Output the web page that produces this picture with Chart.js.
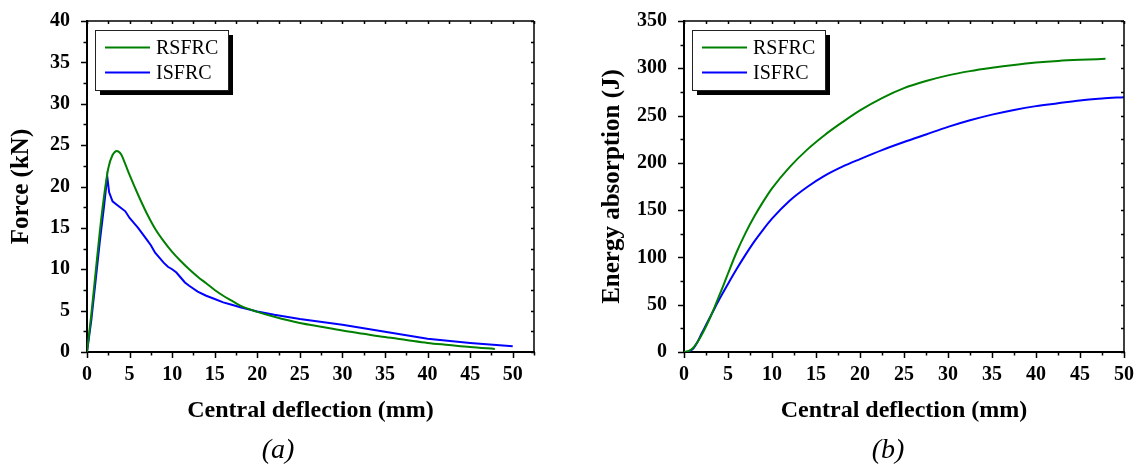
<!DOCTYPE html>
<html>
<head>
<meta charset="utf-8">
<script src="https://cdn.jsdelivr.net/npm/chart.js@4.4.1/dist/chart.umd.min.js"></script>
<style>
  html, body { margin: 0; padding: 0; background: #fff; }
  body { width: 1137px; height: 466px; position: relative; overflow: hidden; }
  canvas { position: absolute; top: 0; }
  #cA { left: 0; }
  #cB { left: 594px; }
  .cap { position: absolute; font-family: 'Liberation Serif', 'Times New Roman', serif; font-style: italic; font-size: 28px; color: #000; transform: translate(-50%, -50%); white-space: nowrap; }
</style>
</head>
<body>
<canvas id="cA" width="560" height="466"></canvas>
<canvas id="cB" width="543" height="466"></canvas>
<div class="cap" style="left:278px; top:449px;">(a)</div>
<div class="cap" style="left:888px; top:449px;">(b)</div>
<script>
// ---------- DATA ----------
const seriesNames = ['RSFRC', 'ISFRC'];

// (a) Force vs central deflection
const defRS_a = [0,0.5,1,1.5,2,2.5,3,3.5,4,4.5,5,6,7,8,9,10,11,12,13,14,15,16,17,18,20,22,25,27.5,30,32.5,35,37.5,40,42.5,45,47.9];
const forceRS = [0,4.5,9.5,14.5,18.8,22.2,23.8,24.3,23.9,22.7,21.4,19.0,16.8,14.9,13.4,12.1,11.0,10.0,9.1,8.3,7.5,6.8,6.2,5.6,4.85,4.25,3.5,3.05,2.6,2.2,1.8,1.45,1.1,0.85,0.6,0.37];

const defIS_a = [0,0.5,1,1.5,2,2.38,2.6,3,3.5,4,4.5,5,5.5,6,6.5,7,7.5,8,8.5,9,9.5,10,10.5,11,11.5,12,13,14,15,16,17,18,20,22,25,30,35,40,45,50];
const forceIS = [0,3.8,8.5,13.3,17.6,21.2,19.3,18.2,17.8,17.4,17.0,16.2,15.6,15.0,14.3,13.6,12.9,12.0,11.4,10.8,10.3,10.0,9.6,9.0,8.4,8.0,7.3,6.8,6.4,6.0,5.7,5.4,4.9,4.5,4.0,3.3,2.45,1.6,1.1,0.7];

// (b) Energy absorption vs central deflection
const defRS_b = [0,0.5,1,1.5,2,2.5,3,3.5,4,4.5,5,6,7,8,9,10,12,14,16,18,20,22.5,25,27.5,30,32.5,35,37.5,40,42.5,45,47.9];
const energyRS = [0,1,4,10,18,27,37,48,59.5,71,83,106,126,143.5,159,173,195.5,214,229.5,243,255.5,268.5,279,286.5,292.5,297,300.5,303.5,306,307.8,309,310];

const defIS_b = [0,0.5,1,1.5,2,2.5,3,3.5,4,5,6,7,8,9,10,12,14,16,18,20,22.5,25,27.5,30,32.5,35,37.5,40,42.5,45,47.5,50];
const energyIS = [0,0.6,3,10,19.5,28.5,37.5,46.5,55.5,72,88,103,117,129.5,141,160,174.5,186.5,196,204,213.5,222,230,238,245,251,256,260,263,266,268,269.5];

// tick labels
const xTicksA = [0,5,10,15,20,25,30,35,40,45,50];
const yTicksA = [0,5,10,15,20,25,30,35,40];
const xTicksB = [0,5,10,15,20,25,30,35,40,45,50];
const yTicksB = [0,50,100,150,200,250,300,350];

const colors = ['#008000', '#0000ff'];
// ---------- END DATA ----------

const FONT = "'Liberation Serif', 'Times New Roman', serif";

function pts(xs, ys) { return xs.map((x, i) => ({ x: x, y: ys[i] })); }

// minor + mirrored tick marks, frame
const framePlugin = {
  id: 'frameTicks',
  afterDraw(chart) {
    const ctx = chart.ctx, a = chart.chartArea;
    const xs = chart.scales.x, ys = chart.scales.y;
    const xMajor = chart.options.plugins.frameTicks.xMajor;
    const yMajor = chart.options.plugins.frameTicks.yMajor;
    function allTicks(major, min, max) {
      const step = (major[1] - major[0]) / 2;
      const out = [];
      for (let v = min; v <= max + 1e-9; v += step) {
        const isMajor = major.some(m => Math.abs(m - v) < 1e-6);
        out.push({ v: v, major: isMajor });
      }
      return out;
    }
    ctx.save();
    ctx.strokeStyle = '#000';
    ctx.lineWidth = 1.5;
    ctx.beginPath();
    ctx.moveTo(a.left, a.top); ctx.lineTo(a.right, a.top);
    ctx.moveTo(a.right, a.top); ctx.lineTo(a.right, a.bottom);
    ctx.stroke();
    ctx.beginPath();
    allTicks(xMajor, xs.min, xs.max).forEach(t => {
      const px = Math.round(xs.getPixelForValue(t.v)) + 0.5;
      const len = t.major ? 6 : 3.5;
      ctx.moveTo(px, a.bottom); ctx.lineTo(px, a.bottom + len);
      ctx.moveTo(px, a.top); ctx.lineTo(px, a.top + 3);
    });
    allTicks(yMajor, ys.min, ys.max).forEach(t => {
      const py = Math.round(ys.getPixelForValue(t.v)) + 0.5;
      const len = t.major ? 6 : 3.5;
      ctx.moveTo(a.left, py); ctx.lineTo(a.left - len, py);
      ctx.moveTo(a.right, py); ctx.lineTo(a.right - 3, py);
    });
    ctx.stroke();
    ctx.restore();
  }
};

// legend box with drop shadow
const legendPlugin = {
  id: 'shadowLegend',
  afterDraw(chart) {
    const ctx = chart.ctx, a = chart.chartArea;
    const bx = a.left + 8, by = a.top + 9, bw = 133, bh = 60;
    ctx.save();
    ctx.fillStyle = '#000';
    ctx.fillRect(bx + 5, by + 5, bw, bh);
    ctx.fillStyle = '#fff';
    ctx.fillRect(bx, by, bw, bh);
    ctx.strokeStyle = '#222';
    ctx.lineWidth = 1;
    ctx.strokeRect(bx + 0.5, by + 0.5, bw, bh);
    ctx.font = '20px ' + FONT;
    ctx.textBaseline = 'middle';
    ctx.textAlign = 'left';
    chart.data.datasets.forEach((ds, i) => {
      const ry = by + 17.5 + i * 25;
      ctx.strokeStyle = ds.borderColor;
      ctx.lineWidth = 2;
      ctx.beginPath();
      ctx.moveTo(bx + 10, ry); ctx.lineTo(bx + 55, ry);
      ctx.stroke();
      ctx.fillStyle = '#000';
      ctx.fillText(ds.label, bx + 61, ry + 1);
    });
    ctx.restore();
  }
};

function makeChart(id, cfg) {
  const tickFont = { family: FONT, size: 20, weight: 'bold' };
  const xTitleFont = { family: FONT, size: 24, weight: 'bold' };
  const yTitleFont = { family: FONT, size: 25, weight: 'bold' };
  return new Chart(document.getElementById(id), {
    type: 'line',
    data: {
      datasets: cfg.series.map((s, i) => ({
        label: seriesNames[i],
        data: pts(s[0], s[1]),
        borderColor: colors[i],
        backgroundColor: colors[i],
        borderWidth: 2,
        pointRadius: 0,
        fill: false,
        cubicInterpolationMode: s[2] ? 'monotone' : 'default',
        tension: s[2] ? 0.4 : 0
      }))
    },
    options: {
      responsive: false,
      animation: false,
      devicePixelRatio: 1,
      layout: { padding: cfg.padding },
      plugins: {
        legend: { display: false },
        tooltip: { enabled: false },
        frameTicks: { xMajor: cfg.xTicks, yMajor: cfg.yTicks }
      },
      scales: {
        x: {
          type: 'linear', min: 0, max: cfg.xMax,
          afterBuildTicks: s => { s.ticks = cfg.xTicks.map(v => ({ value: v })); },
          afterFit: s => { s.height = 78; },
          grid: { display: false },
          border: { display: true, color: '#000', width: 2 },
          ticks: { font: tickFont, color: '#000', padding: 3, maxRotation: 0, autoSkip: false },
          title: { display: true, text: 'Central deflection (mm)', font: xTitleFont, color: '#000', padding: { top: 4, bottom: 5 } }
        },
        y: {
          type: 'linear', min: 0, max: cfg.yMax,
          afterBuildTicks: s => { s.ticks = cfg.yTicks.map(v => ({ value: v })); },
          afterFit: s => { s.width = cfg.yWidth; },
          grid: { display: false },
          border: { display: true, color: '#000', width: 2 },
          ticks: { font: tickFont, color: '#000', padding: 9, autoSkip: false },
          title: { display: true, text: cfg.yTitle, font: yTitleFont, color: '#000', padding: { top: cfg.yTitlePad, bottom: 4 } }
        }
      }
    },
    plugins: [framePlugin, legendPlugin]
  });
}

makeChart('cA', {
  series: [[defRS_a, forceRS, true], [defIS_a, forceIS, false]],
  xMax: 52.5, yMax: 40, xTicks: xTicksA, yTicks: yTicksA,
  yTitle: 'Force (kN)', yWidth: 87, yTitlePad: 7,
  padding: { left: 0, top: 15, right: 26, bottom: 36 }
});

makeChart('cB', {
  series: [[defRS_b, energyRS, true], [defIS_b, energyIS, true]],
  xMax: 50, yMax: 350, xTicks: xTicksB, yTicks: yTicksB,
  yTitle: 'Energy absorption (J)', yWidth: 90, yTitlePad: 4,
  padding: { left: 0, top: 17, right: 13, bottom: 36 }
});
</script>
</body>
</html>
